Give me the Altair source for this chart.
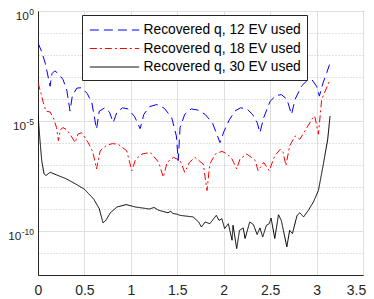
import altair as alt
import pandas as pd

names = ["Recovered q, 12 EV used", "Recovered q, 18 EV used", "Recovered q, 30 EV used"]
colors = ["#0000FF", "#FF0000", "#000000"]
dashes = [[9, 5], [7, 3, 2, 3], [1, 0]]

# series 1 (12 EV): x and log10 of value
x12 = [0.00, 0.04, 0.08, 0.13, 0.15, 0.18, 0.22, 0.27, 0.31, 0.345, 0.37, 0.42, 0.47, 0.53, 0.58, 0.63,
       0.66, 0.72, 0.77, 0.81, 0.85, 0.91, 0.97, 1.04, 1.10, 1.14, 1.20, 1.28, 1.36, 1.44, 1.49, 1.51,
       1.53, 1.58, 1.65, 1.72, 1.80, 1.88, 1.96, 2.00, 2.06, 2.12, 2.18, 2.25, 2.31, 2.36, 2.39, 2.43,
       2.50, 2.56, 2.62, 2.68, 2.73, 2.77, 2.84, 2.90, 2.95, 3.00, 3.03, 3.07, 3.11, 3.145]
l12 = [-1.45, -1.85, -2.4, -3.42, -2.85, -2.72, -2.85, -3.12, -3.6, -4.55, -3.85, -3.5, -3.49, -3.75, -4.17, -5.37,
       -4.55, -4.4, -4.6, -5.07, -4.6, -4.4, -4.45, -4.8, -5.35, -4.7, -4.35, -4.25, -4.42, -4.85, -5.68, -6.8,
       -5.3, -4.7, -4.45, -4.5, -4.7, -5.1, -5.98, -5.5, -4.95, -4.55, -4.4, -4.45, -4.7, -5.07, -5.53, -4.85,
       -4.1, -3.85, -3.8, -4.0, -4.7, -4.0, -3.4, -3.15, -3.12, -3.42, -3.87, -3.27, -2.8, -2.36]

# series 2 (18 EV)
x18 = [0.00, 0.03, 0.057, 0.086, 0.13, 0.165, 0.20, 0.22, 0.24, 0.27, 0.31, 0.345, 0.40, 0.43, 0.47, 0.54,
       0.59, 0.63, 0.67, 0.74, 0.80, 0.86, 0.955, 1.01, 1.05, 1.12, 1.21, 1.30, 1.35, 1.39, 1.46, 1.53,
       1.58, 1.63, 1.69, 1.78, 1.82, 1.85, 1.91, 1.98, 2.04, 2.09, 2.14, 2.175, 2.25, 2.34, 2.37, 2.43,
       2.49, 2.55, 2.61, 2.64, 2.67, 2.71, 2.77, 2.82, 2.875, 2.95, 2.98, 3.02, 3.055, 3.145]
l18 = [-3.27, -3.7, -4.17, -4.55, -4.59, -4.85, -5.3, -5.9, -5.4, -5.3, -5.4, -5.6, -5.98, -5.6, -5.53, -5.98,
       -6.4, -7.18, -6.35, -6.1, -6.03, -6.05, -6.35, -7.26, -6.75, -6.5, -6.43, -6.88, -7.56, -6.88, -6.65, -6.8,
       -7.33, -6.88, -6.65, -6.96, -8.16, -6.96, -6.5, -6.38, -6.5, -6.73, -7.18, -6.73, -6.5, -6.8, -7.26, -6.88,
       -7.26, -6.58, -6.28, -6.43, -7.03, -6.13, -5.68, -5.83, -5.45, -4.92, -4.77, -5.6, -4.02, -3.12]

# series 3 (30 EV)
x30 = [0.00, 0.02, 0.04, 0.065, 0.086, 0.13, 0.20, 0.30, 0.40, 0.50, 0.60, 0.66, 0.70, 0.73, 0.78, 0.85,
       0.95, 1.05, 1.15, 1.20, 1.25, 1.30, 1.40, 1.43, 1.45, 1.50, 1.53, 1.67, 1.73, 1.76, 1.80, 1.85,
       1.92, 1.95, 1.98, 2.01, 2.05, 2.09, 2.10, 2.14, 2.17, 2.21, 2.23, 2.28, 2.32, 2.36, 2.39, 2.42,
       2.46, 2.49, 2.51, 2.55, 2.59, 2.62, 2.68, 2.71, 2.74, 2.79, 2.82, 2.86, 2.91, 2.965, 3.02, 3.07,
       3.12, 3.145]
l30 = [-4.7, -5.8, -6.8, -7.4, -7.48, -7.33, -7.45, -7.62, -7.85, -8.1, -8.55, -8.99, -9.63, -9.52, -9.17, -8.91,
       -8.8, -8.91, -8.97, -9.0, -8.93, -9.06, -9.17, -9.1, -9.2, -9.24, -9.29, -9.36, -9.59, -9.82, -9.59, -9.67,
       -9.29, -9.52, -9.44, -9.89, -9.67, -10.42, -9.74, -10.8, -9.97, -9.86, -10.34, -9.59, -9.71, -10.16, -9.86, -10.27,
       -9.74, -9.67, -9.41, -10.34, -9.26, -9.52, -10.72, -9.97, -10.12, -9.29, -9.17, -9.36, -9.07, -8.69, -8.16, -7.03,
       -5.83, -4.77]

x_ticks = [0, 0.5, 1, 1.5, 2, 2.5, 3, 3.5]
y_ticks = [10.0 ** -k for k in range(0, 13)]
y_label_exps = [0, -5, -10]

rows = []
for name, xs, ls in zip(names, [x12, x18, x30], [l12, l18, l30]):
    for xv, lv in zip(xs, ls):
        rows.append({"series": name, "x": xv, "y": 10.0 ** lv})
df = pd.DataFrame(rows)

lab_df = pd.DataFrame({"k": y_label_exps})
lab_df["y"] = [10.0 ** k for k in y_label_exps]
lab_df["exp"] = [str(k) for k in y_label_exps]

FONT = "Liberation Sans"
TXT = "#262626"
major_test = "round(log(datum.value)/LN10) % 5 == 0"

y_scale = alt.Scale(type="log", domain=[1e-12, 1], nice=False)

legend = alt.Legend(
    title=None, orient="none", legendX=44, legendY=4,
    symbolType="M-2.9,0H2.9", symbolSize=289, symbolStrokeWidth=1,
    symbolOffset=17.5, labelOffset=20,
    labelFont=FONT, labelFontSize=13.8, labelColor="#000000",
    padding=6, rowPadding=2.5,
    strokeColor="#262626", fillColor="#FFFFFF",
)

lines = alt.Chart(df).mark_line(strokeWidth=1, clip=True).encode(
    x=alt.X("x:Q",
            scale=alt.Scale(domain=[0, 3.5], nice=False, zero=False),
            axis=alt.Axis(values=x_ticks, format="~g", title=None, grid=True,
                          gridColor="#DFDFDF", gridWidth=1, tickSize=0,
                          labelPadding=8, labelFont=FONT, labelFontSize=14,
                          labelColor=TXT, domainColor="#262626",
                          labelFlush=False,
                          labelOffset={"condition": {"test": "datum.value >= 3.4", "value": -7}, "value": 0})),
    y=alt.Y("y:Q", scale=y_scale,
            axis=alt.Axis(values=y_ticks, title=None, grid=True, labels=False,
                          gridColor={"condition": {"test": major_test, "value": "#DFDFDF"}, "value": "#C4C4C4"},
                          gridDash={"condition": {"test": major_test, "value": []}, "value": [1, 2]},
                          tickSize=0, domainColor="#262626")),
    color=alt.Color("series:N", scale=alt.Scale(domain=names, range=colors), legend=legend),
    strokeDash=alt.StrokeDash("series:N", scale=alt.Scale(domain=names, range=dashes), legend=legend),
)

# y tick labels: "10" with a raised exponent, right-aligned as one block
base_lab = alt.Chart(lab_df).transform_calculate(
    bx="-4.5 - ((datum.k < 0 ? 2.8 : 0) + length(toString(abs(datum.k))) * 4.7)"
).mark_text(align="right", baseline="alphabetic", dy=9, font=FONT, fontSize=11.8,
            color=TXT, clip=False).encode(
    x=alt.X("bx:Q", scale=None),
    y=alt.Y("y:Q", scale=y_scale),
    text=alt.value("10"),
)
exp_lab = alt.Chart(lab_df).mark_text(align="right", baseline="alphabetic", dy=4, font=FONT,
                                      fontSize=8.5, color=TXT, clip=False).encode(
    x=alt.value(-4),
    y=alt.Y("y:Q", scale=y_scale),
    text="exp:N",
)

chart = alt.layer(lines, base_lab, exp_lab).properties(
    width=325, height=264,
    padding={"left": 30, "top": 3, "right": 3, "bottom": 23},
    autosize="none",
).configure_view(stroke="#262626", strokeWidth=1)

chart.save("out.html", embed_options={"renderer": "svg", "actions": False})
